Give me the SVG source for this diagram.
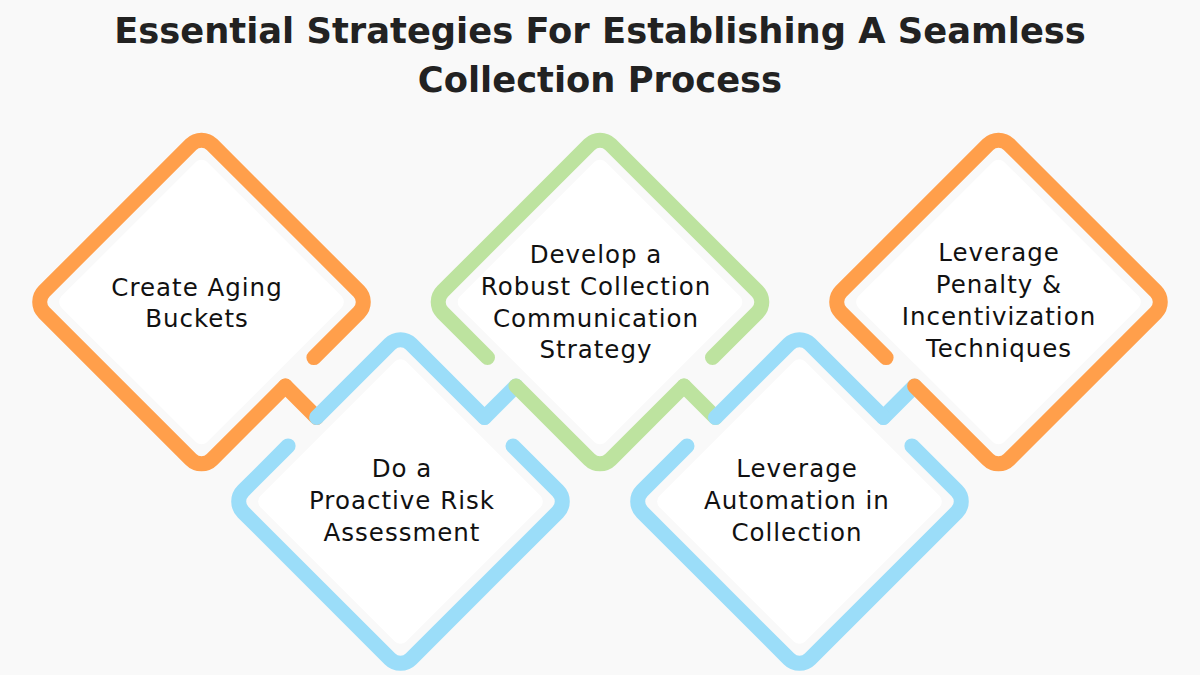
<svg xmlns="http://www.w3.org/2000/svg" width="1200" height="675" viewBox="0 0 1200 675">
  <style>
    .bg { fill: #f9f9f9; }
    .card { fill: #ffffff; }
    .line { fill: none; stroke-width: 15; stroke-linecap: round; stroke-linejoin: round; }
    .o { stroke: #ff9f4b; }
    .b { stroke: #9bddf9; }
    .g { stroke: #bde39f; }
    .title { font-family: "DejaVu Sans", "Liberation Sans", sans-serif; font-weight: 700; font-size: 35.3px; fill: #222222; text-anchor: middle; }
    .lbl { font-family: "DejaVu Sans", "Liberation Sans", sans-serif; font-size: 24.5px; letter-spacing: 1px; fill: #111111; text-anchor: middle; }
  </style>
  <rect class="bg" x="0" y="0" width="1200" height="675"/>

  <g id="title">
    <text class="title" x="600" y="43">Essential Strategies For Establishing A Seamless</text>
    <text class="title" x="600" y="92">Collection Process</text>
  </g>

  <g id="connectors">
    <path class="line o" d="M285.4,386.1 L316.6,417.4"/>
    <path class="line b" d="M484.5,417.5 L516,386"/>
    <path class="line g" d="M684,386 L715.5,417.5"/>
    <path class="line b" d="M883.4,417.4 L914.6,386.1"/>
  </g>

  <g id="node1">
    <rect class="card" x="-103" y="-103" width="206" height="206" rx="8" transform="translate(201.5,302) rotate(45)"/>
    <path class="line o" d="M313.9,357.6 L358.9,312.6 A15,15 0 0 0 358.9,291.4 L212.1,144.6 A15,15 0 0 0 190.9,144.6 L44.1,291.4 A15,15 0 0 0 44.1,312.6 L190.9,459.4 A15,15 0 0 0 212.1,459.4 L285.4,386.1"/>
    <text class="lbl" x="197" y="296">Create Aging</text>
    <text class="lbl" x="197" y="327">Buckets</text>
  </g>

  <g id="node2">
    <rect class="card" x="-103" y="-103" width="206" height="206" rx="8" transform="translate(400.5,501.5) rotate(45)"/>
    <path class="line b" d="M316.6,417.4 L389.9,344.1 A15,15 0 0 1 411.1,344.1 L484.5,417.5"/>
    <path class="line b" d="M513,446 L557.9,490.9 A15,15 0 0 1 557.9,512.1 L411.1,658.9 A15,15 0 0 1 389.9,658.9 L243.1,512.1 A15,15 0 0 1 243.1,490.9 L288.1,445.9"/>
    <text class="lbl" x="402" y="477">Do a</text>
    <text class="lbl" x="402" y="509">Proactive Risk</text>
    <text class="lbl" x="402" y="541">Assessment</text>
  </g>

  <g id="node3">
    <rect class="card" x="-103" y="-103" width="206" height="206" rx="8" transform="translate(600,302) rotate(45)"/>
    <path class="line g" d="M516,386 L589.4,459.4 A15,15 0 0 0 610.6,459.4 L684,386"/>
    <path class="line g" d="M712.5,357.5 L757.4,312.6 A15,15 0 0 0 757.4,291.4 L610.6,144.6 A15,15 0 0 0 589.4,144.6 L442.6,291.4 A15,15 0 0 0 442.6,312.6 L487.5,357.5"/>
    <text class="lbl" x="596" y="263">Develop a</text>
    <text class="lbl" x="596" y="295">Robust Collection</text>
    <text class="lbl" x="596" y="327">Communication</text>
    <text class="lbl" x="596" y="358">Strategy</text>
  </g>

  <g id="node4">
    <rect class="card" x="-103" y="-103" width="206" height="206" rx="8" transform="translate(799.5,501.5) rotate(45)"/>
    <path class="line b" d="M715.5,417.5 L788.9,344.1 A15,15 0 0 1 810.1,344.1 L883.4,417.4"/>
    <path class="line b" d="M911.9,445.9 L956.9,490.9 A15,15 0 0 1 956.9,512.1 L810.1,658.9 A15,15 0 0 1 788.9,658.9 L642.1,512.1 A15,15 0 0 1 642.1,490.9 L687,446"/>
    <text class="lbl" x="797" y="477">Leverage</text>
    <text class="lbl" x="797" y="509">Automation in</text>
    <text class="lbl" x="797" y="541">Collection</text>
  </g>

  <g id="node5">
    <rect class="card" x="-103" y="-103" width="206" height="206" rx="8" transform="translate(998.5,302) rotate(45)"/>
    <path class="line o" d="M914.6,386.1 L987.9,459.4 A15,15 0 0 0 1009.1,459.4 L1155.9,312.6 A15,15 0 0 0 1155.9,291.4 L1009.1,144.6 A15,15 0 0 0 987.9,144.6 L841.1,291.4 A15,15 0 0 0 841.1,312.6 L886.1,357.6"/>
    <text class="lbl" x="999" y="261">Leverage</text>
    <text class="lbl" x="999" y="293">Penalty &amp;</text>
    <text class="lbl" x="999" y="325">Incentivization</text>
    <text class="lbl" x="999" y="357">Techniques</text>
  </g>
</svg>
